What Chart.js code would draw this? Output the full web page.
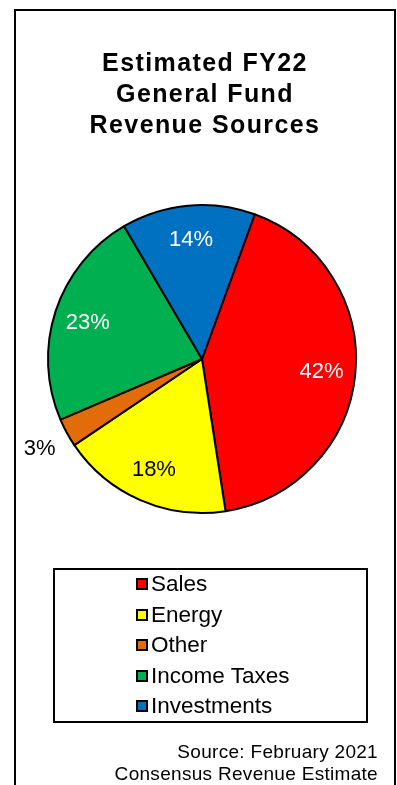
<!DOCTYPE html>
<html>
<head>
<meta charset="utf-8">
<script src="https://cdn.jsdelivr.net/npm/chart.js@4/dist/chart.umd.min.js"></script>
<style>
  html, body { margin: 0; padding: 0; background: #fff; }
  body { width: 397px; height: 785px; position: relative; overflow: hidden;
    font-family: 'Liberation Sans', Arial, sans-serif; color: #000; }
  #frame { position: absolute; left: 14px; top: 9px; width: 378px; height: 800px;
    border: 2px solid #000; }
  #myChart { position: absolute; left: 0; top: 0; }
  #title { position: absolute; left: 15px; width: 380px; top: 47px; text-align: center;
    font-weight: bold; font-size: 25px; line-height: 31px; letter-spacing: 1.4px; }
  #legend { position: absolute; left: 53px; top: 568px; width: 311px; height: 151px;
    border: 2px solid #000; }
  .item { position: absolute; left: 81px; height: 30px; line-height: 30px; font-size: 22.5px;
    white-space: nowrap; }
  .swatch { display: inline-block; width: 8px; height: 8px; border: 2px solid #000;
    margin-right: 3px; vertical-align: 1px; }
  #source { position: absolute; right: 19px; top: 741px; text-align: right;
    font-size: 19px; line-height: 22px; letter-spacing: 0.3px; }
</style>
</head>
<body>
<div id="frame"></div>
<canvas id="myChart" width="397" height="785"></canvas>
<div id="title">Estimated FY22<br>General Fund<br>Revenue Sources</div>
<div id="legend"></div>
<div id="source">Source: February 2021<br>Consensus Revenue Estimate</div>
<script>
const labels = ['Sales', 'Energy', 'Other', 'Income Taxes', 'Investments']
const shares = [42, 18, 3, 23, 14]
const colors = ['#ff0000', '#ffff00', '#e36c0a', '#00b050', '#0070c0']
const labelColors = ['#fff', '#000', '#000', '#fff', '#fff']

// percent labels inside each slice, small slices get theirs outside
const sliceLabels = {
  id: 'sliceLabels',
  afterDatasetsDraw(chart) {
    const ctx = chart.ctx
    const meta = chart.getDatasetMeta(0)
    ctx.save()
    ctx.font = '22px "Liberation Sans", Arial, sans-serif'
    ctx.textAlign = 'center'
    ctx.textBaseline = 'middle'
    meta.data.forEach((arc, i) => {
      const p = arc.getProps(['x', 'y', 'startAngle', 'endAngle', 'outerRadius'])
      const mid = (p.startAngle + p.endAngle) / 2
      const d = shares[i] < 5 ? p.outerRadius * 1.2 : p.outerRadius * 0.78
      ctx.fillStyle = labelColors[i]
      ctx.fillText(shares[i] + '%', p.x + Math.cos(mid) * d, p.y + Math.sin(mid) * d + 1)
    })
    ctx.restore()
  }
}

const config = {
  type: 'pie',
  data: {
    labels: labels,
    datasets: [
      {
        data: shares,
        backgroundColor: colors,
        borderColor: '#000',
        borderWidth: 2
      }
    ]
  },
  options: {
    responsive: false,
    animation: false,
    rotation: 20,
    layout: {
      padding: { left: 47, right: 40, top: 204, bottom: 271 }
    },
    plugins: {
      legend: { display: false },
      tooltip: { enabled: false }
    }
  },
  plugins: [sliceLabels]
}
const myChart = new Chart(document.getElementById('myChart'), config)

// legend box
const legendEl = document.getElementById('legend')
labels.forEach((name, i) => {
  const row = document.createElement('div')
  row.className = 'item'
  row.style.top = (i * 30.5 - 1) + 'px'
  row.innerHTML = '<span class="swatch" style="background:' + colors[i] + '"></span>' + name
  legendEl.appendChild(row)
})
</script>
</body>
</html>
